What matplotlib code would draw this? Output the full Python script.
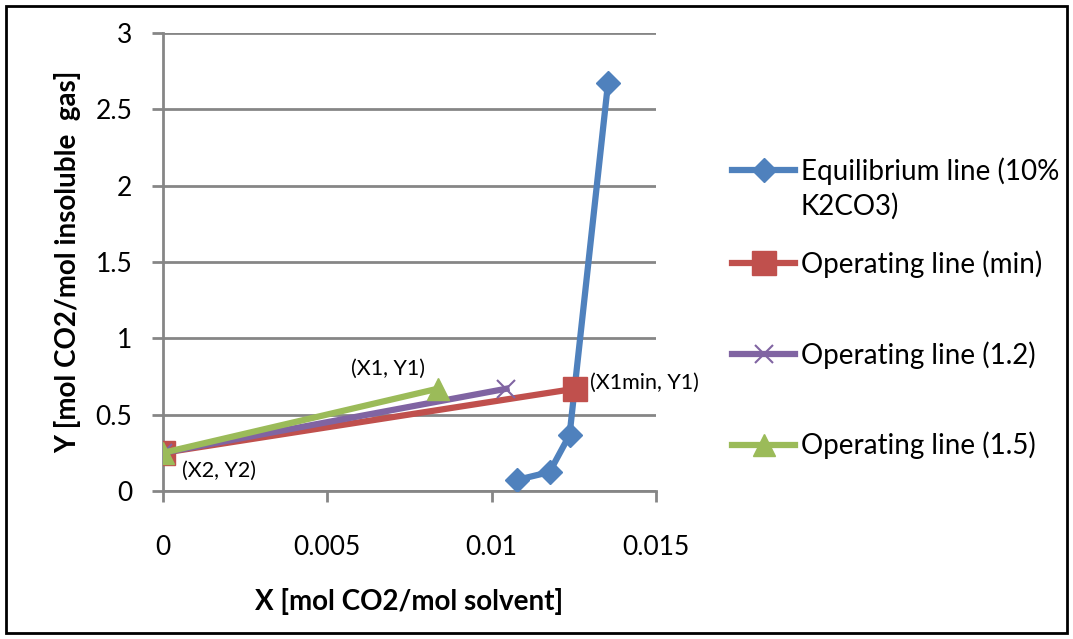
import matplotlib.pyplot as plt
from matplotlib.patches import Rectangle

plt.rcParams['font.family'] = ['Lato', 'DejaVu Sans']

# equilibrium line (10% K2CO3)
eq_x = [0.01076, 0.01176, 0.01237, 0.01354]
eq_y = [0.072, 0.124, 0.367, 2.672]

# operating lines: (X2, Y2) -> (X1, Y1)
op_min_x = [0.0, 0.01254]
op_min_y = [0.25, 0.67]
op_12_x = [0.0, 0.01045]
op_12_y = [0.25, 0.67]
op_15_x = [0.0, 0.00836]
op_15_y = [0.25, 0.67]

blue = '#4F81BD'
red = '#C0504D'
purple = '#8064A2'
green = '#9BBB59'
grid_c = '#868686'

W, H = 1073, 639
fig = plt.figure(figsize=(W / 100, H / 100), dpi=100)
ax = fig.add_axes([163 / W, 1 - 491 / H, (656 - 163) / W, (491 - 33) / H])

l_eq, = ax.plot(eq_x, eq_y, color=blue, lw=4.5, marker='D', ms=12, label='Equilibrium line (10% K2CO3)', zorder=3)
l_min, = ax.plot(op_min_x, op_min_y, color=red, lw=4.5, marker='s', ms=17, label='Operating line (min)', zorder=3)
l_12, = ax.plot(op_12_x, op_12_y, color=purple, lw=4.5, marker='x', ms=13, mew=1.5, label='Operating line (1.2)', zorder=3)
l_15, = ax.plot(op_15_x, op_15_y, color=green, lw=4.5, marker='^', ms=16, label='Operating line (1.5)', zorder=3)

ax.set_xlim(0, 0.015)
ax.set_ylim(0, 3)
ax.set_xticks([0, 0.005, 0.01, 0.015])
ax.set_xticklabels(['0', '0.005', '0.01', '0.015'])
ax.set_yticks([0, 0.5, 1, 1.5, 2, 2.5, 3])
ax.set_yticklabels(['0', '0.5', '1', '1.5', '2', '2.5', '3'])
ax.yaxis.grid(True, color=grid_c, lw=2)
ax.set_axisbelow(True)
for s in ['top', 'right']:
    ax.spines[s].set_visible(False)
for s in ['left', 'bottom']:
    ax.spines[s].set_color(grid_c)
    ax.spines[s].set_linewidth(2)
ax.tick_params(axis='x', direction='out', length=8, width=2, color=grid_c, labelsize=19, pad=24)
ax.tick_params(axis='y', direction='out', length=8, width=2, color=grid_c, labelsize=19, pad=14)

ax.set_xlabel('X [mol CO2/mol solvent]', fontsize=20, fontweight='bold', labelpad=20)
ax.set_ylabel('Y [mol CO2/mol insoluble  gas]', fontsize=20, fontweight='bold', labelpad=10)

ax.annotate('(X1min, Y1)', (op_min_x[1], op_min_y[1]), xytext=(11, 4), textcoords='offset points',
            fontsize=15.5, ha='left', va='center')
ax.annotate('(X2, Y2)', (op_min_x[0], op_min_y[0]), xytext=(14, -13), textcoords='offset points',
            fontsize=15.5, ha='left', va='center')
ax.annotate('(X1, Y1)', (op_15_x[1], op_15_y[1]), xytext=(-36, 14), textcoords='offset points',
            fontsize=15.5, ha='center', va='center')

# legend: equilibrium entry wraps onto two lines, handle beside the first line
leg_kw = dict(frameon=False, fontsize=20, handlelength=2.27, handletextpad=0.2, loc='center left')
leg1 = fig.legend([l_eq], ['Equilibrium line (10%'], bbox_to_anchor=(707 / W, 1 - 171 / H), **leg_kw)
leg2 = fig.legend([l_min, l_12, l_15], [l_min.get_label(), l_12.get_label(), l_15.get_label()],
                  bbox_to_anchor=(707 / W, 1 - 355 / H), labelspacing=2.27, **leg_kw)
fig.canvas.draw()
x0 = leg1.get_texts()[0].get_window_extent().x0
fig.text(x0 / W, 1 - 206 / H, 'K2CO3)', fontsize=20, ha='left', va='center')

fig.patches.append(Rectangle((6 / W, 6 / H), (W - 12) / W, (H - 12) / H, transform=fig.transFigure,
                             fill=False, edgecolor='black', lw=2))

fig.savefig('out.png', dpi=100)
